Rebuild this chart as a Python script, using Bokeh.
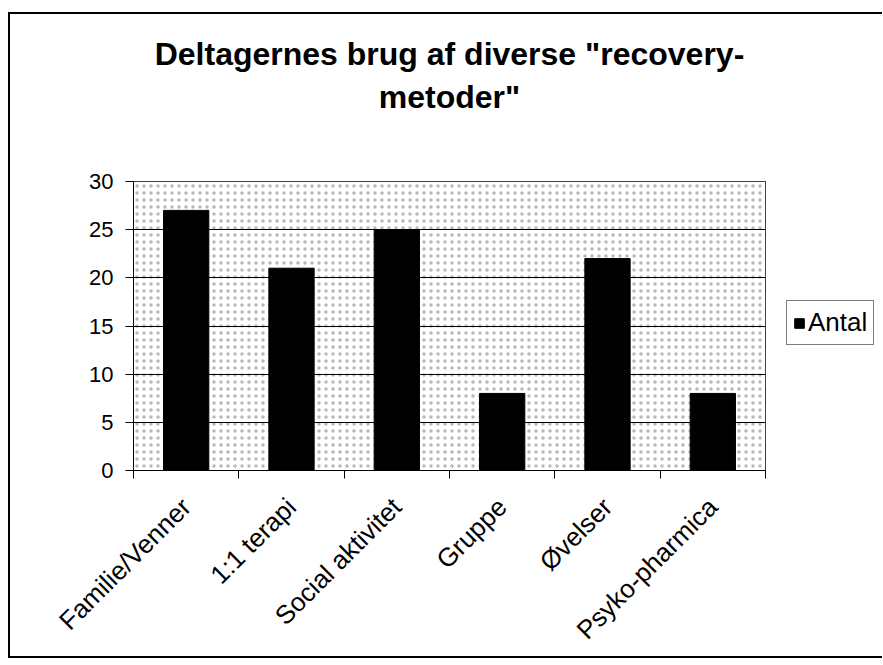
import numpy as np
from bokeh.plotting import figure
from bokeh.layouts import row
from bokeh.models import (ColumnDataSource, FixedTicker, BoxAnnotation, Legend, LegendItem, Title)
from bokeh.embed import file_html
from bokeh.resources import INLINE

categories = ["Familie/Venner", "1:1 terapi", "Social aktivitet", "Gruppe", "Øvelser", "Psyko-pharmica"]
antal = [27, 21, 25, 8, 22, 8]
series_name = "Antal"
title_line1 = 'Deltagernes brug af diverse "recovery-'
title_line2 = 'metoder"'
y_ticks = [0, 5, 10, 15, 20, 25, 30]

FONT = "Liberation Sans"
n = len(categories)
xs = (np.arange(n) + 0.5).tolist()
src = ColumnDataSource(dict(x=xs, y=antal, cat=categories))

H = 664
p = figure(width=770, height=H, output_backend="svg", toolbar_location=None,
           x_range=(0, n), y_range=(0, 30),
           min_border_left=133, min_border_right=5, min_border_top=181, min_border_bottom=194)
p.title.visible = False

bg = BoxAnnotation(fill_color="white", fill_alpha=1.0, line_color=None,
                   hatch_pattern=".", hatch_color="#333333", hatch_alpha=0.35, hatch_scale=7,
                   level="image")
p.add_layout(bg)

r = p.vbar(x="x", top="y", width=0.43, bottom=0, source=src, fill_color="black", line_color="black")

p.outline_line_color = "black"
p.outline_line_width = 1
p.background_fill_color = "white"
p.border_fill_color = None

p.xgrid.grid_line_color = None
p.ygrid.grid_line_color = "black"
p.ygrid.grid_line_width = 1
p.ygrid.ticker = FixedTicker(ticks=y_ticks)

p.yaxis.ticker = FixedTicker(ticks=y_ticks)
p.yaxis.major_label_text_font = FONT
p.yaxis.major_label_text_font_size = "22px"
p.yaxis.major_label_text_color = "black"
p.yaxis.major_tick_out = 8
p.yaxis.major_tick_in = 0
p.yaxis.minor_tick_line_color = None
p.yaxis.axis_line_color = "black"
p.yaxis.major_label_standoff = 12

p.xaxis.ticker = FixedTicker(ticks=xs, minor_ticks=list(range(n + 1)))
p.xaxis.major_label_overrides = {x: c for x, c in zip(xs, categories)}
p.xaxis.major_label_orientation = np.pi / 4
p.xaxis.major_label_text_font = FONT
p.xaxis.major_label_text_font_size = "26px"
p.xaxis.major_label_text_color = "black"
p.xaxis.major_tick_line_color = None
p.xaxis.major_tick_out = 0
p.xaxis.major_tick_in = 0
p.xaxis.minor_tick_line_color = "black"
p.xaxis.minor_tick_out = 8
p.xaxis.minor_tick_in = 0
p.xaxis.axis_line_color = "black"
p.xaxis.major_label_standoff = 24

# title block: a blank spacer line next to the plot area, then the two title lines
spacer = Title(text=" ", align="center", text_font=FONT, text_font_size="32px",
               text_font_style="bold", text_color="black", standoff=26)
t2 = Title(text=title_line2, align="center", text_font=FONT, text_font_size="32px",
           text_font_style="bold", text_color="black", standoff=5)
t1 = Title(text=title_line1, align="center", text_font=FONT, text_font_size="32px",
           text_font_style="bold", text_color="black", standoff=5)
p.add_layout(spacer, "above")
p.add_layout(t2, "above")
p.add_layout(t1, "above")

# legend panel to the right of the plot area
p2 = figure(width=112, height=H, output_backend="svg", toolbar_location=None,
            x_axis_location=None, y_axis_location=None,
            min_border_left=0, min_border_right=0, min_border_top=181, min_border_bottom=194)
p2.title.visible = False
p2.grid.visible = False
p2.outline_line_color = None
p2.background_fill_color = None
p2.border_fill_color = None
r2 = p2.vbar(x="x", top="y", width=0.43, source=src, fill_color="black", line_color="black")
r2.visible = False

legend = Legend(items=[LegendItem(label=series_name, renderers=[r2])], location=(16, 125))
legend.border_line_color = "black"
legend.border_line_width = 1
legend.background_fill_color = "white"
legend.inactive_fill_alpha = 0.0
legend.label_text_font = FONT
legend.label_text_font_size = "26px"
legend.label_text_color = "black"
legend.label_standoff = 3
legend.glyph_width = 12
legend.glyph_height = 12
legend.padding = 6
legend.margin = 0
p2.add_layout(legend, "center")

frame_css = {
    "background-color": "white",
    "background-image": "linear-gradient(#000,#000), linear-gradient(#000,#000), linear-gradient(#000,#000)",
    "background-position": "8px 12px, 8px 12px, 8px 656px",
    "background-size": "2px 646px, 880px 2px, 880px 2px",
    "background-repeat": "no-repeat",
}
lay = row(p, p2, styles=frame_css)
open("out.html", "w").write(file_html(lay, INLINE))
